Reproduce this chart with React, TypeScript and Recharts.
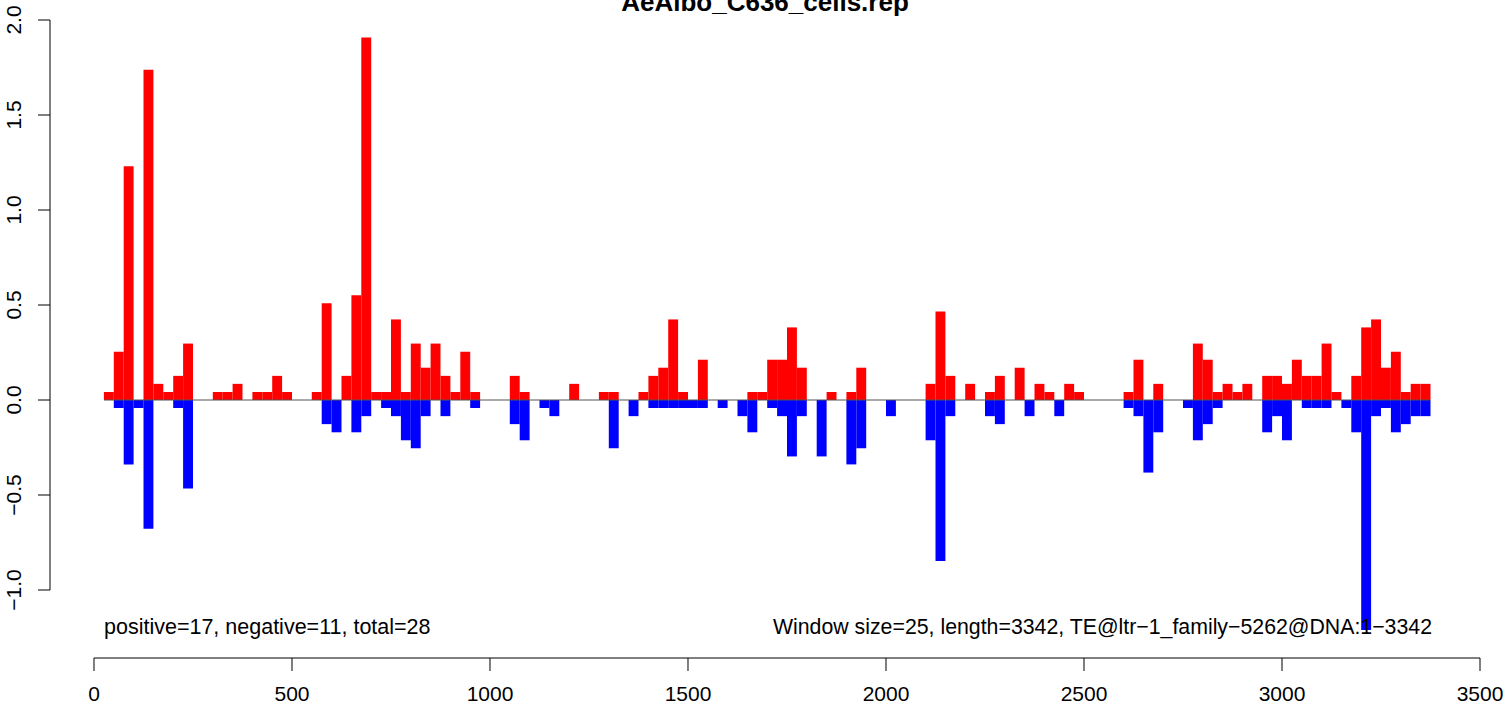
import React from "react";
import { ComposedChart, Bar, XAxis, YAxis, ReferenceLine } from "recharts";

const windowSize = 25;
const seqStart = 25;
const seqEnd = 3375;

// positive-strand score per 25 bp window (window i covers [25i, 25i+25])
const posValues = [
  0, 0.042, 0.254, 1.23, 0, 1.738, 0.085, 0.042, 0.127, 0.297,
  0, 0, 0.042, 0.042, 0.085, 0, 0.042, 0.042, 0.127, 0.042,
  0, 0, 0.042, 0.509, 0, 0.127, 0.551, 1.908, 0.042, 0.042,
  0.424, 0.042, 0.297, 0.17, 0.297, 0.127, 0.042, 0.254, 0.042, 0,
  0, 0, 0.127, 0.042, 0, 0, 0, 0, 0.085, 0,
  0, 0.042, 0.042, 0, 0, 0.042, 0.127, 0.17, 0.424, 0.042,
  0, 0.212, 0, 0, 0, 0, 0.042, 0.042, 0.212, 0.212,
  0.382, 0.17, 0, 0, 0.042, 0, 0.042, 0.17, 0, 0,
  0, 0, 0, 0, 0.085, 0.466, 0.127, 0, 0.085, 0,
  0.042, 0.127, 0, 0.17, 0, 0.085, 0.042, 0, 0.085, 0.042,
  0, 0, 0, 0, 0.042, 0.212, 0, 0.085, 0, 0,
  0, 0.297, 0.212, 0.042, 0.085, 0.042, 0.085, 0, 0.127, 0.127,
  0.085, 0.212, 0.127, 0.127, 0.297, 0.042, 0, 0.127, 0.382, 0.424,
  0.17, 0.254, 0.042, 0.085, 0.085,
];

// negative-strand score per window
const negValues = [
  0, 0, -0.042, -0.339, -0.042, -0.678, 0, 0, -0.042, -0.466,
  0, 0, 0, 0, 0, 0, 0, 0, 0, 0,
  0, 0, 0, -0.127, -0.17, 0, -0.17, -0.085, 0, -0.042,
  -0.085, -0.212, -0.254, -0.085, 0, -0.085, 0, 0, -0.042, 0,
  0, 0, -0.127, -0.212, 0, -0.042, -0.085, 0, 0, 0,
  0, 0, -0.254, 0, -0.085, 0, -0.042, -0.042, -0.042, -0.042,
  -0.042, -0.042, 0, -0.042, 0, -0.085, -0.17, 0, -0.042, -0.085,
  -0.297, -0.085, 0, -0.297, 0, 0, -0.339, -0.254, 0, 0,
  -0.085, 0, 0, 0, -0.212, -0.848, -0.085, 0, 0, 0,
  -0.085, -0.127, 0, 0, -0.085, 0, 0, -0.085, 0, 0,
  0, 0, 0, 0, -0.042, -0.085, -0.382, -0.17, 0, 0,
  -0.042, -0.212, -0.127, -0.042, 0, 0, 0, 0, -0.17, -0.085,
  -0.212, 0, -0.042, -0.042, -0.042, 0, -0.042, -0.17, -1.21, -0.085,
  -0.042, -0.17, -0.127, -0.085, -0.085,
];

const xTicks = [0, 500, 1000, 1500, 2000, 2500, 3000, 3500];
const yTicks = [-1, -0.5, 0, 0.5, 1, 1.5, 2];

const titleText = "AeAlbo_C636_cells.rep";
const leftNote = "positive=17, negative=11, total=28";
const rightNote = "Window size=25, length=3342, TE@ltr\u22121_family\u22125262@DNA:1\u22123342";

const data = posValues.map((p, i) => ({
  x: i * windowSize + windowSize / 2,
  pos: p,
  neg: negValues[i],
}));

const W = 1506;
const H = 704;
const xDomain: [number, number] = [-111.11, 3500];
const yDomain: [number, number] = [-1.35789, 2.0];
const FONT = "'Liberation Sans', Arial, Helvetica, sans-serif";

const fmtY = (v: number) => (v < 0 ? "\u2212" + Math.abs(v).toFixed(1) : v.toFixed(1));

const YTick = (props: any) => {
  const { y, payload } = props;
  return (
    <text
      x={21}
      y={y}
      transform={`rotate(-90 21 ${y})`}
      textAnchor="middle"
      fontSize={21}
      fontFamily={FONT}
      fill="#000"
    >
      {fmtY(payload.value)}
    </text>
  );
};

const XTick = (props: any) => {
  const { x, payload } = props;
  return (
    <text x={x} y={701} textAnchor="middle" fontSize={21} fontFamily={FONT} fill="#000">
      {payload.value}
    </text>
  );
};

export default function App() {
  return (
    <div style={{ position: "absolute", left: 0, top: 0, width: W, height: H, background: "#fff" }}>
      <ComposedChart
        width={W}
        height={H}
        data={data}
        margin={{ top: 20, right: 26, bottom: 0, left: 0 }}
        stackOffset="sign"
        barGap={0}
        barCategoryGap={0}
      >
        <XAxis
          type="number"
          dataKey="x"
          domain={xDomain}
          allowDataOverflow
          ticks={xTicks}
          interval={0}
          height={46}
          axisLine={false}
          tickLine={{ stroke: "#000", strokeWidth: 1 }}
          tickSize={13}
          tickMargin={0}
          tick={<XTick />}
        />
        <YAxis
          type="number"
          domain={yDomain}
          allowDataOverflow
          ticks={yTicks}
          interval={0}
          width={50}
          axisLine={false}
          tickLine={{ stroke: "#000", strokeWidth: 1 }}
          tickSize={12}
          tickMargin={0}
          tick={<YTick />}
        />
        <Bar dataKey="pos" stackId="s" fill="#FF0000" barSize={9.9} isAnimationActive={false} />
        <Bar dataKey="neg" stackId="s" fill="#0000FF" barSize={9.9} isAnimationActive={false} />
        <ReferenceLine
          segment={[{ x: seqStart, y: 0 }, { x: seqEnd, y: 0 }]}
          stroke="#555"
          strokeWidth={1}
          ifOverflow="visible"
        />
        <ReferenceLine
          segment={[{ x: xDomain[0], y: -1 }, { x: xDomain[0], y: 2 }]}
          stroke="#000"
          strokeWidth={1}
          ifOverflow="visible"
        />
        <ReferenceLine
          segment={[{ x: 0, y: yDomain[0] }, { x: 3500, y: yDomain[0] }]}
          stroke="#000"
          strokeWidth={1}
          ifOverflow="visible"
        />
      </ComposedChart>
      <svg
        width={W}
        height={H}
        style={{ position: "absolute", left: 0, top: 0, pointerEvents: "none" }}
      >
        <text x={765} y={11} textAnchor="middle" fontSize={26} fontWeight="bold" fontFamily={FONT} fill="#000">
          {titleText}
        </text>
        <text x={104} y={634} textAnchor="start" fontSize={21.5} fontFamily={FONT} fill="#000">
          {leftNote}
        </text>
        <text x={1432} y={634} textAnchor="end" fontSize={21.3} fontFamily={FONT} fill="#000">
          {rightNote}
        </text>
      </svg>
    </div>
  );
}
